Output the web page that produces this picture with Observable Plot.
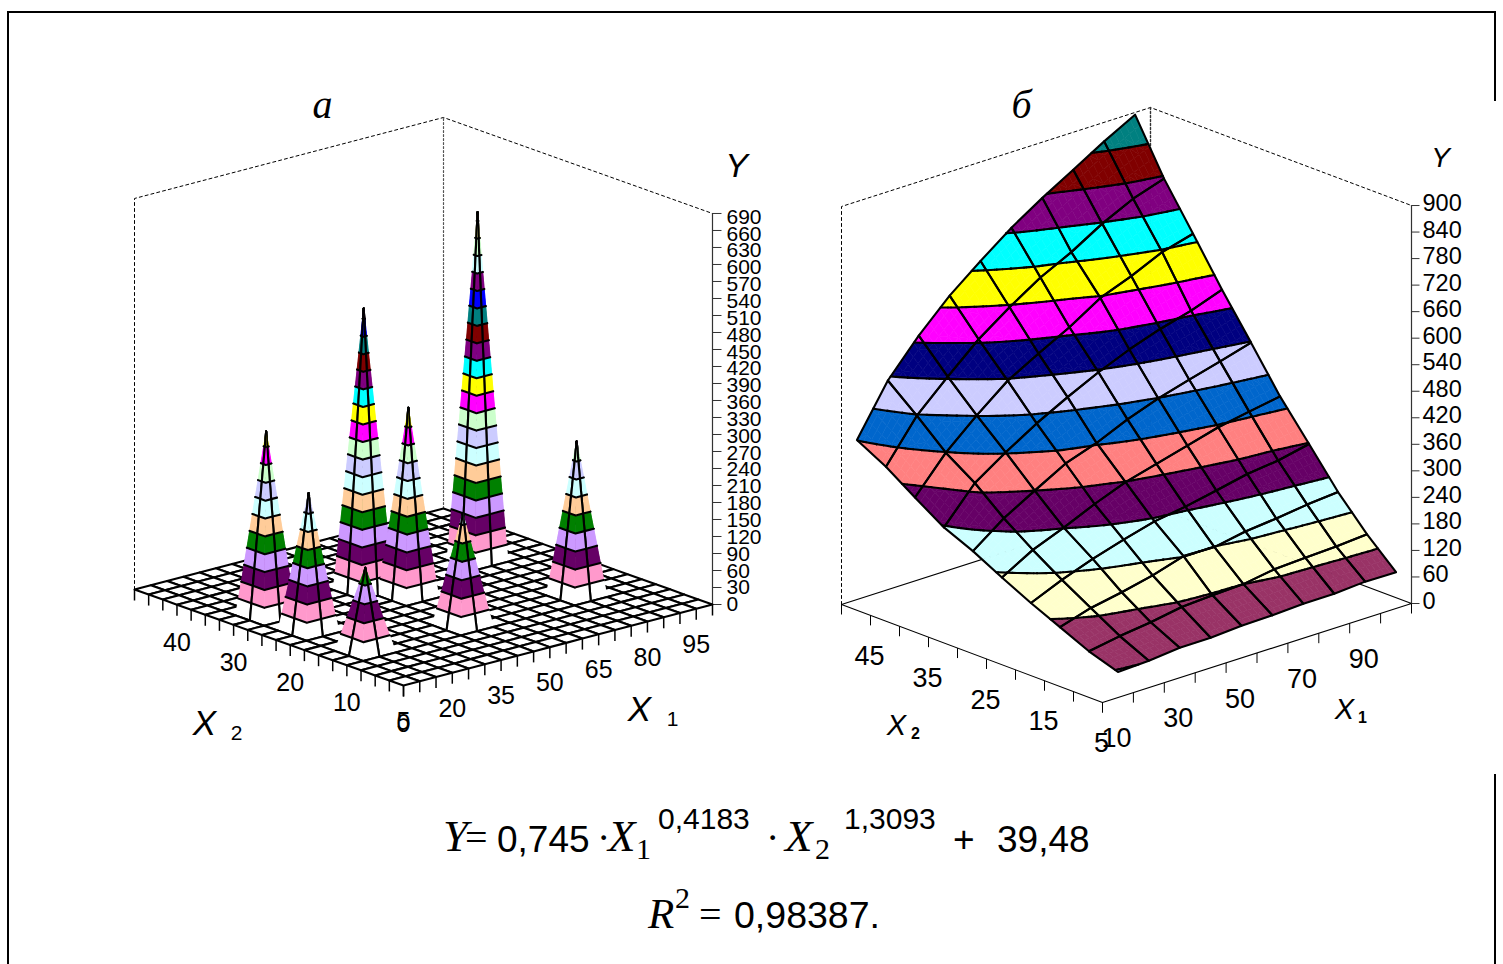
<!DOCTYPE html>
<html>
<head>
<meta charset="utf-8">
<script src="https://cdn.jsdelivr.net/npm/d3@7"></script>
<script src="https://cdn.jsdelivr.net/npm/@observablehq/plot@0.6"></script>
<style>
html,body{margin:0;padding:0;background:#fff;overflow:hidden}
#page{position:relative;width:1503px;height:964px;overflow:hidden;background:#fff}
#chart svg{display:block}
.fr{position:absolute;background:#000}
.t{position:absolute;white-space:pre;line-height:1;top:calc(var(--b) - .85em);color:#000;font-family:"Liberation Sans",sans-serif}
.s{font-family:"Liberation Serif",serif}
.i{font-style:italic}
</style>
</head>
<body>
<div id="page">
  <div id="chart"></div>
  <div class="fr" style="left:8px;top:11px;width:1488px;height:2px"></div>
  <div class="fr" style="left:7px;top:11px;width:2px;height:953px"></div>
  <div class="fr" style="left:1494px;top:11px;width:2px;height:90px"></div>
  <div class="fr" style="left:1494px;top:774px;width:2px;height:190px"></div>

  <span class="t s i" style="left:443px;--b:852px;font-size:45px">Y</span>
  <span class="t s" style="left:465px;--b:852px;font-size:40px">=</span>
  <span class="t" style="left:497px;--b:852px;font-size:37px">0,745</span>
  <span class="t s" style="left:597px;--b:852px;font-size:40px">·</span>
  <span class="t s i" style="left:608px;--b:852px;font-size:45px">X</span>
  <span class="t s" style="left:636px;--b:859px;font-size:30px">1</span>
  <span class="t" style="left:658px;--b:829px;font-size:30px">0,4183</span>
  <span class="t s" style="left:766px;--b:852px;font-size:40px">·</span>
  <span class="t s i" style="left:785px;--b:852px;font-size:45px">X</span>
  <span class="t s" style="left:815px;--b:859px;font-size:30px">2</span>
  <span class="t" style="left:844px;--b:829px;font-size:30px">1,3093</span>
  <span class="t" style="left:953px;--b:852px;font-size:37px">+</span>
  <span class="t" style="left:997px;--b:852px;font-size:37px">39,48</span>
  <span class="t s i" style="left:648px;--b:929px;font-size:43px">R</span>
  <span class="t s" style="left:675px;--b:908px;font-size:30px">2</span>
  <span class="t s" style="left:699px;--b:929px;font-size:40px">=</span>
  <span class="t" style="left:734px;--b:929px;font-size:37.5px">0,98387.</span>
</div>
<script>
// ---------- panel а : X1, X2 grid, peaks ----------
const gridX1A = d3.range(5, 101, 5);
const gridX2A = d3.range(0, 48, 2.5);
const peakX1 = [15, 15, 15, 45, 50, 45, 80, 80];
const peakX2 = [12.5, 22.5, 30, 30, 25, 12.5, 30, 12.5];
const peakY  = [148, 244, 326, 498, 333, 199, 615, 273];
const bandColorsA = ["#FFFFFF","#FF99CC","#660066","#CC99FF","#008000","#FFCC99","#CCFFFF","#CCCCFF","#CCFFCC","#FF00FF","#FFFF00","#00FFFF","#800080","#800000","#008080","#0000FF","#800080","#CCFFFF","#CCFFCC","#FFFF99","#FFCC99"];
const yTicksA = [0,30,60,90,120,150,180,210,240,270,300,330,360,390,420,450,480,510,540,570,600,630,660,690];
const x1LabelsA = [5,20,35,50,65,80,95];
const x2LabelsA = [0,10,20,30,40];

// ---------- panel б : measured surface, rows by X2, columns by X1 ----------
const gridX1B = [15,25,35,45,55,65,75,85,95,105];
const gridX2B = [5,10,15,20,25,30,35,40,45,50];
const surfaceB = [
  [58,61,68,68,73,74,78,78,83,82],
  [80,92,101,113,117,120,131,135,138,143],
  [110,131,144,160,181,179,192,199,208,214],
  [140,170,195,216,235,246,260,275,283,298],
  [173,213,241,272,299,318,337,356,369,381],
  [208,260,300,339,363,394,419,439,458,478],
  [237,315,362,405,442,476,505,529,548,573],
  [280,359,421,477,516,553,597,624,656,675],
  [325,418,484,546,596,641,676,718,752,775],
  [361,473,552,620,676,729,774,815,857,895]
];
const bandColorsB = ["#9999FF","#993366","#FFFFCC","#CCFFFF","#660066","#FF8080","#0066CC","#CCCCFF","#000080","#FF00FF","#FFFF00","#00FFFF","#800080","#800000","#008080","#0000FF"];
const yTicksB = [0,60,120,180,240,300,360,420,480,540,600,660,720,780,840,900];
const x1TicksB = [10,20,30,40,50,60,70,80,90,100,110];
const x2TicksB = [5,10,15,20,25,30,35,40,45,50];
const x1LabelsB = [10,30,50,70,90];
const x2LabelsB = [5,15,25,35,45];

// ---------- oblique projections of both boxes ----------
const PA = (a, b, z) => [403 + (a - 5) * 3.2526 - b * 5.663, 685 - (a - 5) * 0.8526 - b * 2.021 - z * 0.5667];
const PB = (a, b, z) => [1102 + (a - 10) * 3.09 - (b - 5) * 5.8, 702 - (a - 10) * 0.99 - (b - 5) * 2.178 - z * 0.4422];

// ---------- surface tessellation ----------
const LW = 2.1;
const rows = [];
let uid = 0;
function pushPath(list, pts, P, f, s, w) {
  const id = uid++;
  for (const p of pts) {
    const [x, y] = P(p[0], p[1], p[2]);
    list.push({x, y, id, f, s, w});
  }
}
function clip(poly, test, level) {
  const out = [];
  for (let k = 0; k < poly.length; k++) {
    const c = poly[k], n = poly[(k + 1) % poly.length];
    const ci = test(c[2]), ni = test(n[2]);
    if (ci) out.push(c);
    if (ci !== ni) {
      const t = (level - c[2]) / (n[2] - c[2]);
      out.push([c[0] + t * (n[0] - c[0]), c[1] + t * (n[1] - c[1]), level]);
    }
  }
  return out;
}
function triangle(tri, step, colors, fills, lines, P) {
  const zs = tri.map(p => p[2]);
  const lo = Math.floor(d3.min(zs) / step), hi = Math.floor(d3.max(zs) / step);
  for (let b = lo; b <= hi; b++) {
    let poly = tri;
    if (b > lo) poly = clip(poly, z => z >= b * step, b * step);
    if (b < hi) poly = clip(poly, z => z <= (b + 1) * step, (b + 1) * step);
    if (poly.length > 2) {
      const c = colors[Math.min(b, colors.length - 1)];
      pushPath(fills, [...poly, poly[0]], P, c, c, 0.6);
    }
  }
  for (let b = lo + 1; b <= hi; b++) {
    const level = b * step, seg = [];
    for (let k = 0; k < 3; k++) {
      const c = tri[k], n = tri[(k + 1) % 3];
      if ((c[2] < level) !== (n[2] < level)) {
        const t = (level - c[2]) / (n[2] - c[2]);
        seg.push([c[0] + t * (n[0] - c[0]), c[1] + t * (n[1] - c[1]), level]);
      }
    }
    if (seg.length === 2) pushPath(lines, seg, P, "none", "#000", LW);
  }
}
function cell(a0, a1, b0, b1, z00, z10, z01, z11, n, step, colors, fills, lines, P) {
  const V = (u, v) => [a0 + (a1 - a0) * u, b0 + (b1 - b0) * v,
    z00 * (1 - u) * (1 - v) + z10 * u * (1 - v) + z01 * (1 - u) * v + z11 * u * v];
  for (let su = n - 1; su >= 0; su--) for (let sv = n - 1; sv >= 0; sv--) {
    const q00 = V(su / n, sv / n), q10 = V((su + 1) / n, sv / n),
          q01 = V(su / n, (sv + 1) / n), q11 = V((su + 1) / n, (sv + 1) / n);
    const quad = [q00, q10, q11, q01], zs = quad.map(p => p[2]);
    const lo = Math.floor(d3.min(zs) / step), hi = Math.floor(d3.max(zs) / step);
    if (lo === hi) {
      const c = colors[Math.min(lo, colors.length - 1)];
      pushPath(fills, [...quad, quad[0]], P, c, c, 0.6);
    } else {
      triangle([q11, q10, q01], step, colors, fills, lines, P);
      triangle([q10, q00, q01], step, colors, fills, lines, P);
    }
  }
  pushPath(lines, [[a0,b0,z00],[a1,b0,z10],[a1,b1,z11],[a0,b1,z01],[a0,b0,z00]], P, "none", "#000", LW);
}
// a cell of panel а that touches a peak is split along the diagonal through the peak;
// its far triangle is painted first, with its own lines, so the near one hides them
function spikeCell(a0, a1, b0, b1, z00, z10, z01, z11, step, colors, out, P) {
  const c00 = [a0,b0,z00], c10 = [a1,b0,z10], c01 = [a0,b1,z01], c11 = [a1,b1,z11];
  const diag = (z00 > 0 || z11 > 0) ? [c00, c11] : [c10, c01];
  const apexes = (z00 > 0 || z11 > 0) ? [c10, c01] : [c11, c00];
  const order = apexes.slice().sort((m, n) => (n[0] / 5 + n[1] / 2.5) - (m[0] / 5 + m[1] / 2.5));
  for (const r of order) {
    const f = [], l = [];
    triangle([diag[0], diag[1], r], step, colors, f, l, P);
    pushPath(l, [diag[0], r, diag[1]], P, "none", "#000", LW);
    out.push(...f, ...l);
  }
}
// panel а: painter order, each cell's fills then its lines
const heightA = (a, b) => {
  const k = peakX1.findIndex((v, m) => v === a && peakX2[m] === b);
  return k < 0 ? 0 : peakY[k];
};
for (let i = gridX1A.length - 2; i >= 0; i--) for (let j = gridX2A.length - 2; j >= 0; j--) {
  const a0 = gridX1A[i], a1 = gridX1A[i + 1], b0 = gridX2A[j], b1 = gridX2A[j + 1];
  const z00 = heightA(a0, b0), z10 = heightA(a1, b0), z01 = heightA(a0, b1), z11 = heightA(a1, b1);
  const fills = [], lines = [];
  if (z00 + z10 + z01 + z11 === 0) cell(a0, a1, b0, b1, 0, 0, 0, 0, 1, 30, bandColorsA, fills, lines, PA);
  else spikeCell(a0, a1, b0, b1, z00, z10, z01, z11, 30, bandColorsA, fills, PA);
  rows.push(...fills, ...lines);
}
// panel б: fills first, lines on top
const fillsB = [], linesB = [];
for (let i = gridX1B.length - 2; i >= 0; i--) for (let j = gridX2B.length - 2; j >= 0; j--) {
  cell(gridX1B[i], gridX1B[i + 1], gridX2B[j], gridX2B[j + 1],
       surfaceB[j][i], surfaceB[j][i + 1], surfaceB[j + 1][i], surfaceB[j + 1][i + 1],
       6, 60, bandColorsB, fillsB, linesB, PB);
}
rows.push(...fillsB, ...linesB);

// ---------- box helpers ----------
const boxLine = (P, pts, opts) => Plot.line(pts.map(p => { const [x, y] = P(p[0], p[1], p[2]); return {x, y}; }), {x: "x", y: "y", stroke: "#000", ...opts});
const dots = {strokeWidth: 1, strokeDasharray: "3,3"};
const SANS = "Liberation Sans";
const linkV = (P, pts, len, opts) => Plot.link(pts, {
  x1: d => P(...d)[0], y1: d => P(...d)[1],
  x2: d => P(...d)[0] + (len[0]), y2: d => P(...d)[1] + (len[1]),
  stroke: "#000", strokeWidth: 1, ...opts});
const label = (P, pts, text, opts) => Plot.text(pts, {
  x: d => P(...d)[0], y: d => P(...d)[1], text: (d, i) => text[i],
  fontFamily: SANS, fill: "#000", ...opts});

const marks = [
  // а box
  boxLine(PA, [[5,47.5,0],[5,47.5,690],[100,47.5,690],[100,0,690]], dots),
  boxLine(PA, [[100,47.5,0],[100,47.5,690]], {stroke: "#555", strokeWidth: 1.2, strokeDasharray: "2,2"}),
  boxLine(PA, [[100,0,0],[100,0,690]], {stroke: "#333", strokeWidth: 1.2}),
  // б box
  boxLine(PB, [[10,50,0],[10,50,900],[110,50,900],[110,5,900]], dots),
  boxLine(PB, [[110,50,0],[110,50,900]], {stroke: "#333", strokeWidth: 1.4, strokeDasharray: "2,2"}),
  boxLine(PB, [[110,5,0],[110,5,900]], {stroke: "#333", strokeWidth: 1.2}),
  boxLine(PB, [[10,50,0],[10,5,0],[110,5,0],[110,50,0],[10,50,0]], {strokeWidth: 1.1}),
  // ticks
  linkV(PA, gridX2A.map(b => [5, b, 0]), [0, 11], {strokeWidth: 1.5}),
  linkV(PA, gridX1A.map(a => [a, 0, 0]), [0, 11], {strokeWidth: 1.5}),
  linkV(PA, yTicksA.map(z => [100, 0, z]), [9, 0], {stroke: "#333"}),
  linkV(PB, x2TicksB.map(b => [10, b, 0]), [0, 10], {strokeWidth: 1}),
  linkV(PB, x1TicksB.map(a => [a, 5, 0]), [0, 10], {strokeWidth: 1}),
  linkV(PB, yTicksB.map(z => [110, 5, z]), [8, 0], {stroke: "#333"}),
  // surfaces
  Plot.line(rows, {x: "x", y: "y", z: "id", fill: "f", stroke: "s", strokeWidth: "w", strokeLinecap: "round", strokeLinejoin: "round"}),
  // tick labels а
  label(PA, yTicksA.map(z => [100, 0, z * 0.991]), yTicksA.map(String), {dx: 14, textAnchor: "start", fontSize: 21}),
  label(PA, x1LabelsA.map(a => [a, 0, 0]), x1LabelsA.map(String), {dy: 36, fontSize: 25}),
  label(PA, x2LabelsA.map(b => [5, b, 0]), x2LabelsA.map(String), {dy: 38, fontSize: 25}),
  // tick labels б
  label(PB, yTicksB.map(z => [110, 5, z]), yTicksB.map(String), {dx: 11, dy: -2, textAnchor: "start", fontSize: 23.5}),
  label(PB, x1LabelsB.map(a => [a, 5, 0]), x1LabelsB.map(String), {dx: 14, dy: 36, fontSize: 27}),
  label(PB, x2LabelsB.map(b => [10, b, 0]), x2LabelsB.map(String), {dx: -1, dy: 41, fontSize: 27}),
  // axis titles а
  label(PA, [[100,0,690]], ["Y"], {dx: 24, dy: -47, fontSize: 34, fontStyle: "italic"}),
  label(PA, [[5,0,0]], ["X"], {dx: -199, dy: 38, fontSize: 35, fontStyle: "italic"}),
  label(PA, [[5,0,0]], ["2"], {dx: -167, dy: 48, fontSize: 21}),
  label(PA, [[100,0,0]], ["X"], {dx: -73, dy: 105, fontSize: 35, fontStyle: "italic"}),
  label(PA, [[100,0,0]], ["1"], {dx: -40, dy: 115, fontSize: 21}),
  // axis titles б
  label(PB, [[110,5,900]], ["Y"], {dx: 29, dy: -47, fontSize: 28, fontStyle: "italic"}),
  label(PB, [[10,5,0]], ["X"], {dx: -206, dy: 23, fontSize: 29, fontStyle: "italic"}),
  label(PB, [[10,5,0]], ["2"], {dx: -187, dy: 31, fontSize: 16, fontWeight: "bold"}),
  label(PB, [[110,5,0]], ["X"], {dx: -67, dy: 106, fontSize: 29, fontStyle: "italic"}),
  label(PB, [[110,5,0]], ["1"], {dx: -49, dy: 114, fontSize: 16, fontWeight: "bold"}),
  // panel letters
  label(PA, [[100,47.5,690]], ["а"], {dx: -121, dy: -12, fontSize: 40, fontStyle: "italic", fontFamily: "Liberation Serif"}),
  label(PB, [[110,50,900]], ["б"], {dx: -129, dy: -2, fontSize: 40, fontStyle: "italic", fontFamily: "Liberation Serif"})
];

const chart = Plot.plot({
  width: 1503, height: 780,
  marginTop: 0, marginRight: 0, marginBottom: 0, marginLeft: 0,
  x: {domain: [0, 1503], range: [0, 1503], axis: null},
  y: {domain: [0, 780], range: [0, 780], axis: null},
  color: {type: "identity"},
  style: {background: "transparent", overflow: "visible"},
  marks
});
document.getElementById("chart").appendChild(chart);
</script>
</body>
</html>
